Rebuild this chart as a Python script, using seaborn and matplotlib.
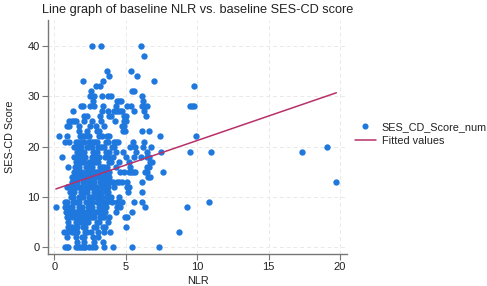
import numpy as np
import pandas as pd
import seaborn as sns
import matplotlib.pyplot as plt
from matplotlib.lines import Line2D

# SES-CD score rows -> NLR values
rows = {
    40: [2.66, 3.24, 6.04],
    38: [6.25],
    35: [3.7, 5.35],
    34: [3.83, 5.8],
    33: [2.02, 3.42, 6.98],
    32: [2.9, 3.2, 9.75],
    31: [2.55, 5.4, 5.55],
    30: [2.5, 2.8, 3.3, 3.75, 3.95, 6.1],
    29: [2.7, 4.35, 4.5, 4.65, 6.2],
    28: [1.85, 2.0, 2.5, 2.75, 3.4, 4.3, 5.1, 5.35, 6.15, 6.3, 6.45, 9.5, 9.65, 9.8],
    27: [1.3, 3.35, 3.75, 4.15, 4.3, 4.45, 4.6, 4.75, 5.55, 6.25],
    26: [2.1, 2.25, 3.2, 3.8, 3.95, 4.9, 5.0, 6.4],
    25: [1.05, 1.2, 1.35, 1.5, 2.1, 2.65, 3.25, 4.25, 4.85, 5.0],
    24: [0.9, 1.05, 1.7, 2.5, 2.9, 3.5, 4.75, 4.9],
    23: [1.7, 2.25, 2.95, 3.1, 4.8, 4.95, 6.1, 6.6],
    22: [0.3, 0.9, 1.8, 1.95, 2.1, 2.25, 2.4, 3.15, 3.3, 3.65, 3.8, 7.4, 9.95],
    21: [0.75, 1.05, 1.5, 1.65, 1.8, 1.95, 2.1, 2.4, 2.55, 2.7, 2.85, 3.0,
         3.6, 3.75, 4.15, 4.3, 4.45, 5.5, 6.3],
    20: [1.4, 1.55, 1.7, 1.85, 2.3, 2.45, 2.6, 3.05, 3.2, 3.35, 3.5, 4.0,
         4.15, 5.3, 5.65, 6.2, 6.8, 19.1],
    19: [1.6, 1.75, 1.9, 2.05, 2.7, 2.85, 3.0, 3.6, 3.8, 4.3, 4.8, 5.7,
         6.5, 7.45, 9.5, 11.0, 17.35],
    18: [0.55, 1.4, 1.55, 1.7, 1.85, 2.0, 2.15, 2.6, 2.75, 2.9, 3.1, 3.55,
         3.75, 4.1, 5.0, 5.6, 6.05, 6.45, 6.6],
    17: [1.5, 1.65, 1.8, 1.95, 2.1, 2.45, 2.6, 2.75, 2.9, 3.05, 3.8, 3.95,
         4.5, 5.2, 6.7, 6.85],
    16: [0.95, 1.45, 1.6, 1.75, 2.2, 2.35, 2.5, 2.65, 3.2, 3.35, 3.5, 3.65,
         4.3, 5.3, 6.5, 6.65],
    15: [1.35, 1.5, 1.65, 1.8, 1.95, 2.3, 2.45, 2.6, 2.75, 2.9, 3.05, 3.2,
         3.55, 3.7, 3.85, 4.6, 4.85, 5.2, 5.35, 5.5, 5.65, 6.35, 6.5, 7.6],
    14: [1.2, 1.35, 1.5, 1.65, 1.8, 2.1, 2.25, 2.4, 2.55, 2.9, 3.05, 3.2,
         3.4, 3.65, 3.8, 6.55, 6.7],
    13: [1.25, 1.4, 1.55, 2.0, 2.15, 2.3, 2.45, 2.6, 2.75, 3.2, 3.35, 3.5,
         3.65, 3.95, 4.1, 4.4, 4.55, 4.75, 5.1, 6.1, 19.75],
    12: [0.9, 1.05, 1.2, 1.35, 1.5, 1.65, 1.8, 1.95, 2.25, 2.4, 2.55, 2.7,
         2.85, 3.0, 3.3, 3.45, 3.6, 3.75, 4.2, 5.05, 5.2],
    11: [1.1, 1.25, 1.4, 1.85, 2.0, 2.15, 2.3, 2.8, 2.95, 3.1, 3.25, 3.6,
         3.75, 5.15, 6.1],
    10: [1.15, 1.3, 1.7, 1.85, 2.0, 2.4, 2.55, 2.7, 3.0, 3.15, 3.3, 3.65,
         3.8, 3.95, 4.55],
    9: [0.75, 0.9, 1.3, 1.45, 1.6, 1.75, 2.2, 2.35, 2.5, 2.65, 2.95, 3.1,
        3.25, 3.4, 3.55, 3.7, 4.05, 4.4, 4.7, 5.6, 6.15, 10.8],
    8: [0.1, 0.75, 0.9, 1.1, 1.25, 1.75, 1.9, 2.35, 2.5, 2.65, 3.15, 3.3,
        3.6, 4.4, 4.6, 6.35, 9.3],
    7: [0.8, 0.95, 1.2, 1.35, 1.5, 1.65, 1.95, 2.1, 2.25, 2.55, 2.7, 2.85,
        3.0, 3.25, 3.4, 3.55, 4.3, 5.4],
    6: [0.9, 1.05, 1.2, 1.45, 1.6, 1.85, 2.0, 2.15, 2.3, 2.5, 2.65, 2.8,
        3.2, 3.35, 3.5, 3.8, 4.95, 5.1],
    5: [0.95, 1.5, 1.65, 1.8, 2.05, 2.2, 2.35, 3.0, 3.15, 3.75],
    4: [0.95, 1.1, 1.25, 1.45, 1.6, 2.0, 2.15, 2.75, 2.9, 3.4, 3.55, 5.0],
    3: [0.7, 0.85, 1.2, 1.35, 1.55, 2.15, 2.3, 2.55, 3.05, 3.5, 3.9, 8.7],
    2: [0.9, 1.5, 1.9, 2.05, 2.7, 3.05],
    1: [1.6, 2.05, 2.75, 3.4],
    0: [0.75, 0.85, 0.95, 1.5, 1.65, 1.8, 1.95, 2.05, 2.15, 2.45, 2.6, 2.85,
        3.5, 4.1, 5.4, 7.3],
}

# fitted line (intercept, slope)
fit_intercept = 11.45
fit_slope = 0.975

nlr = [x for s, xs in rows.items() for x in xs]
ses = [s for s, xs in rows.items() for x in xs]
df = pd.DataFrame({"NLR": nlr, "SES_CD_Score_num": ses})

fit_df = pd.DataFrame({"NLR": [df["NLR"].min(), df["NLR"].max()]})
fit_df["Fitted values"] = fit_intercept + fit_slope * fit_df["NLR"]

sns.set_theme(style="white")
plt.rcParams["font.family"] = ["Liberation Sans", "DejaVu Sans"]

blue = "#1f78de"
red = "#b8306a"

fig = plt.figure(figsize=(4.87, 2.86), dpi=100)
ax = fig.add_axes([0.0986, 0.112, 0.614, 0.818])

sns.scatterplot(data=df, x="NLR", y="SES_CD_Score_num", ax=ax,
                color=blue, s=21, linewidth=0, legend=False, zorder=3)
sns.lineplot(data=fit_df, x="NLR", y="Fitted values", ax=ax,
             color=red, linewidth=1.1, legend=False, zorder=4)

ax.set_xlim(-0.45, 20.5)
ax.set_ylim(-1.4, 45.2)
ax.set_xticks([0, 5, 10, 15, 20])
ax.set_yticks([0, 10, 20, 30, 40])
ax.grid(True, color="#e9e9e9", linestyle=(0, (4, 3)), linewidth=0.7)
ax.set_axisbelow(True)

for side in ["top", "right"]:
    ax.spines[side].set_visible(False)
for side in ["left", "bottom"]:
    ax.spines[side].set_color("#777777")
    ax.spines[side].set_linewidth(1.0)

ax.tick_params(axis="both", which="both", length=4, width=0.8,
               color="#777777", labelsize=8, labelcolor="#222222", pad=2,
               bottom=True, left=True)

ax.set_xlabel("NLR", fontsize=7.8, color="#222222", labelpad=3)
ax.set_ylabel("SES-CD Score", fontsize=7.8, color="#222222", labelpad=9)
ax.set_title("Line graph of baseline NLR vs. baseline SES-CD score",
             fontsize=9.2, color="#222222", pad=5)

handles = [
    Line2D([], [], marker="o", linestyle="none", color=blue,
           markersize=4.4, markeredgewidth=0),
    Line2D([], [], color=red, linewidth=1.1),
]
fig.legend(handles, ["SES_CD_Score_num", "Fitted values"],
           loc="upper left", bbox_to_anchor=(0.728, 0.574),
           frameon=False, fontsize=7.8, handlelength=2.0,
           handletextpad=0.5, labelspacing=0.4, borderpad=0,
           borderaxespad=0, labelcolor="#222222")

fig.savefig("out.png", dpi=100)
